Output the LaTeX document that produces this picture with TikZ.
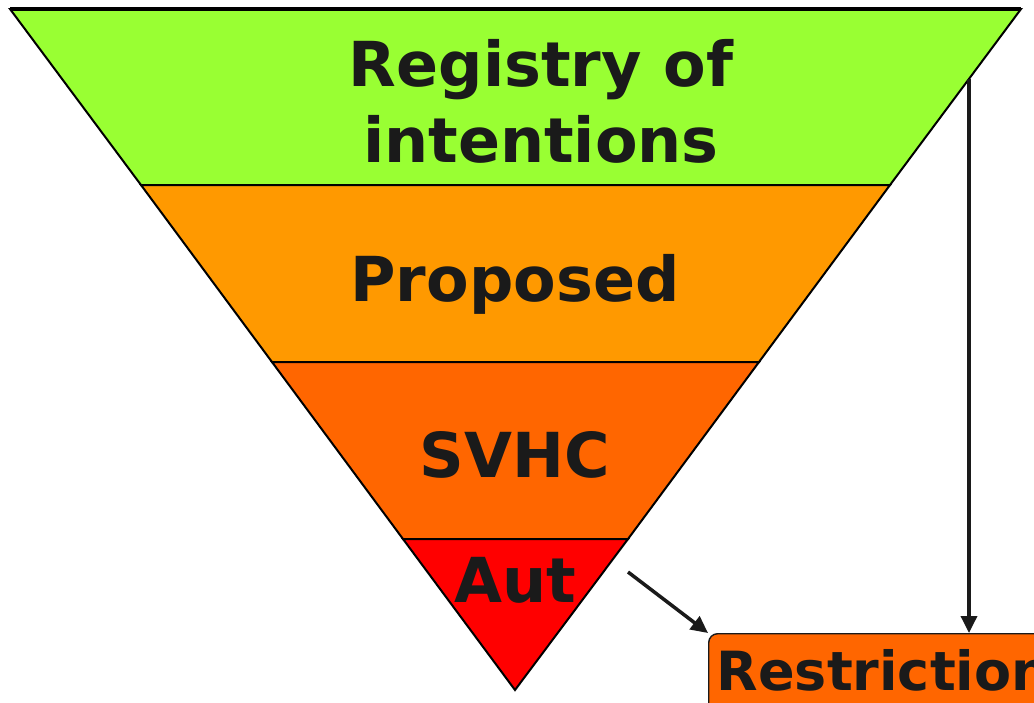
\documentclass[tikz,border=0pt]{standalone}
\usepackage{fontspec}
\setmainfont{DejaVu Sans}
\usetikzlibrary{arrows.meta}
\definecolor{lgreen}{HTML}{99FF33}
\definecolor{lorange}{HTML}{FF9900}
\definecolor{dorange}{HTML}{FF6600}
\definecolor{lred}{HTML}{FF0000}
\definecolor{txt}{HTML}{1A1A1A}
\tikzset{
  band/.style={draw=black, line width=2pt, line join=miter},
  lbl/.style={anchor=base, text=txt, font=\fontsize{62}{74}\selectfont\bfseries, inner sep=0pt},
  conn/.style={draw=txt, line width=3.5pt, -{Triangle[length=17pt,width=16pt]}},
}
\begin{document}
\begin{tikzpicture}[x=1pt,y=-1pt]
\useasboundingbox (0,0) rectangle (1034,702);
\clip (0,0) rectangle (1034,702);
\fill[white] (0,0) rectangle (1034,702);
% bands
\filldraw[band, fill=lgreen] (10,9) -- (1021,9) -- (890,185) -- (141,185) -- cycle;
\filldraw[band, fill=lorange] (141,185) -- (890,185) -- (759,362) -- (272,362) -- cycle;
\filldraw[band, fill=dorange] (272,362) -- (759,362) -- (628,539) -- (403,539) -- cycle;
\filldraw[band, fill=lred] (403,539) -- (628,539) -- (515,690) -- cycle;
\draw[line width=3.2pt] (10,9) -- (1021,9);
% labels
\node[lbl] (reg1) at (541,86) {Registry of};
\node[lbl] (reg2) at (541,162) {intentions};
\node[lbl] (prop) at (515,301) {Proposed};
\node[lbl] (svhc) at (515,477) {SVHC};
\node[lbl] (aut) at (515,602) {Aut};
% restriction box
\node[draw=txt, line width=1.4pt, fill=dorange, rounded corners=9pt, anchor=north west,
      text=txt, font=\fontsize{54}{64}\selectfont\bfseries, inner xsep=8pt,
      text depth=20pt, align=left, text width=400pt,
      text height=51pt, inner ysep=6pt] (restr) at (708,633) {Restriction};
% connectors
\coordinate (vstart) at (969,79);
\coordinate (dstart) at (628,572);
\draw[conn] (vstart) -- (vstart |- restr.north);
\draw[conn] (dstart) -- (restr.north west);
\end{tikzpicture}
\end{document}
